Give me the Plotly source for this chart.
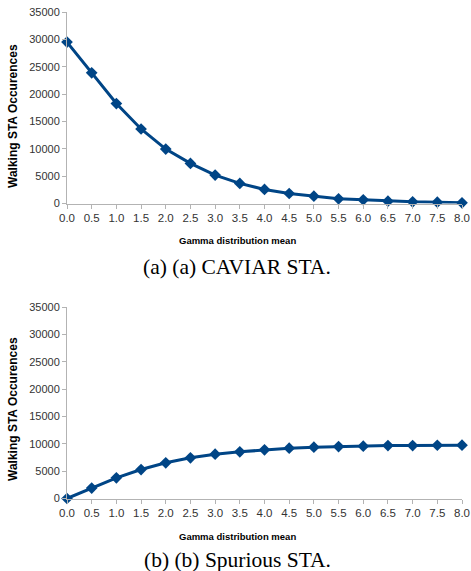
import plotly.graph_objects as go

x_vals = [0.0, 0.5, 1.0, 1.5, 2.0, 2.5, 3.0, 3.5, 4.0, 4.5, 5.0, 5.5, 6.0, 6.5, 7.0, 7.5, 8.0]
x_labels = ["0.0", "0.5", "1.0", "1.5", "2.0", "2.5", "3.0", "3.5", "4.0", "4.5", "5.0", "5.5", "6.0", "6.5", "7.0", "7.5", "8.0"]
caviar_sta = [29500, 23880, 18270, 13620, 9950, 7330, 5190, 3670, 2570, 1830, 1340, 860, 680, 430, 310, 240, 130]
spurious_sta = [0, 1900, 3780, 5290, 6520, 7430, 8100, 8530, 8890, 9200, 9380, 9490, 9570, 9680, 9680, 9730, 9750]
y_ticks = [0, 5000, 10000, 15000, 20000, 25000, 30000, 35000]

W, H = 471, 571
LINE = "#004586"
AXIS = "#b3b3b3"
TXT = "#333333"

fig = go.Figure()
fig.add_trace(go.Scatter(x=x_vals, y=caviar_sta, mode="lines+markers",
                         line=dict(color=LINE, width=3),
                         marker=dict(symbol="diamond", size=9, color=LINE),
                         cliponaxis=False, xaxis="x", yaxis="y", showlegend=False))
fig.add_trace(go.Scatter(x=x_vals, y=spurious_sta, mode="lines+markers",
                         line=dict(color=LINE, width=3),
                         marker=dict(symbol="diamond", size=9, color=LINE),
                         cliponaxis=False, xaxis="x2", yaxis="y2", showlegend=False))

xdom = [67 / W, 462 / W]
top_dom = [1 - 203.5 / H, 1 - 12 / H]
bot_dom = [1 - 498.5 / H, 1 - 307 / H]

def xaxis(anchor):
    return dict(domain=xdom, anchor=anchor, range=[0, 8], tickmode="array",
                tickvals=x_vals, ticktext=x_labels, showgrid=False, zeroline=False,
                showline=True, linecolor=AXIS, linewidth=1, ticks="outside",
                ticklen=4, tickcolor=AXIS, automargin=False,
                tickfont=dict(family="Liberation Sans", size=11.5, color=TXT))

def yaxis(anchor, dom):
    return dict(domain=dom, anchor=anchor, range=[0, 35000], tickmode="array",
                tickvals=y_ticks, ticktext=[str(v) for v in y_ticks],
                showgrid=False, zeroline=False, showline=True, linecolor=AXIS,
                linewidth=1, ticks="outside", ticklen=4, tickcolor=AXIS, automargin=False,
                tickfont=dict(family="Liberation Sans", size=11, color=TXT))

ann = []
for (ycen_ylab, yxt, ycap, cap) in [(116, 240, 267, "(a) (a) CAVIAR STA."),
                                     (409, 536, 560, "(b) (b) Spurious STA.")]:
    ann.append(dict(x=13 / W, y=1 - ycen_ylab / H, xref="paper", yref="paper",
                    text="<b>Walking STA Occurences</b>", textangle=-90, showarrow=False,
                    font=dict(family="Liberation Sans", size=12, color="#000000"),
                    xanchor="center", yanchor="middle"))
    ann.append(dict(x=237 / W, y=1 - yxt / H, xref="paper", yref="paper",
                    text="<b>Gamma distribution mean</b>", showarrow=False,
                    font=dict(family="Liberation Sans", size=9.5, color="#000000"),
                    xanchor="center", yanchor="middle"))
    ann.append(dict(x=237 / W, y=1 - ycap / H, xref="paper", yref="paper",
                    text=cap, showarrow=False,
                    font=dict(family="Liberation Serif", size=21.5, color="#000000"),
                    xanchor="center", yanchor="middle"))

fig.update_layout(
    width=W, height=H, margin=dict(l=0, r=0, t=0, b=0, autoexpand=False),
    paper_bgcolor="white", plot_bgcolor="white",
    xaxis=xaxis("y"), yaxis=yaxis("x", top_dom),
    xaxis2=xaxis("y2"), yaxis2=yaxis("x2", bot_dom),
    annotations=ann,
)

fig.write_html("out.html")
